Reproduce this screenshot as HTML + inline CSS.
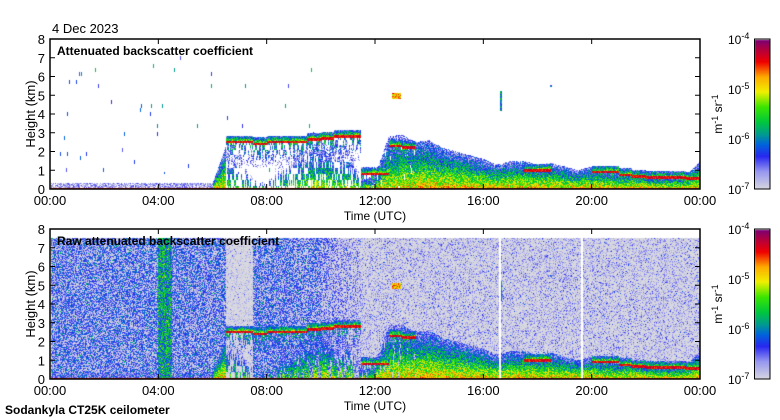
<!DOCTYPE html>
<html><head><meta charset="utf-8"><style>
html,body{margin:0;padding:0;background:#fff;}
#wrap{position:relative;width:780px;height:420px;overflow:hidden;font-family:"Liberation Sans",sans-serif;}
canvas,svg{position:absolute;left:0;top:0;}
</style></head><body>
<div id="wrap">
<canvas id="cv" width="780" height="420"></canvas>
<svg id="sv" width="780" height="420" font-family="Liberation Sans, sans-serif"></svg>
</div>
<script>
// ---- data (half-hour steps, 0..24 h) ----
const blTop = [0.3,0.3,0.3,0.3,0.3,0.3,0.3,0.3,0.3,0.3,0.3,0.3,0.3,2.3,2.0,0.6,0.4,1.5,2.0,2.5,2.6,2.0,2.5,0.5,0.7,2.8,2.9,2.5,2.6,2.2,2.0,1.8,1.6,1.3,1.5,1.5,1.3,1.4,1.2,1.0,1.2,1.0,0.9,1.0,0.8,0.7,0.7,0.7,1.5];
const blDensity = [1,1,1,1,1,1,1,1,1,1,1,1,1,0.45,0.4,0.4,0.4,0.5,0.6,0.7,0.75,0.6,0.6,0.8,0.9,0.9,0.95,1,1,1,1,1,1,1,1,1,1,1,1,1,1,1,1,1,1,1,1,1,1];
const layerH = [0,0,0,0,0,0,0,0,0,0,0,0,0,2.5,2.5,2.4,2.5,2.5,2.5,2.65,2.7,2.8,2.8,0.8,0.8,2.3,2.2,0,0,0,0,0,0,0,0,1.0,1.0,0,0,0,0.9,0.9,0.75,0.65,0.6,0.6,0.6,0.55,0];
const bgLevel = [-6.6,-6.6,-6.6,-6.6,-6.6,-6.6,-6.6,-6.6,-5.9,-6.6,-6.6,-6.6,-6.6,-7.3,-7.3,-6.6,-6.6,-6.6,-6.65,-6.65,-6.8,-6.9,-7.0,-7.1,-7.1,-7.1,-7.1,-7.1,-7.1,-7.1,-7.1,-7.1,-7.1,-7.1,-7.1,-7.1,-7.1,-7.1,-7.1,-7.1,-7.1,-7.1,-7.1,-7.1,-7.1,-7.1,-7.1,-7.1,-7.1];
const blobT = [12.8,16.65,18.5];
const blobH = [4.95,4.7,5.5];
const blobW = [0.35,0.1,0.06];
const blobD = [0.35,1.1,0.12];
const blobV = [-4.8,-6.0,-6.2];
const gapT = [16.6,19.65];
const xTicks = ["00:00","04:00","08:00","12:00","16:00","20:00","00:00"];
const yTicks = [0,1,2,3,4,5,6,7,8];
const cbTicks = ["-7","-6","-5","-4"];

const X0=50,X1=700,PW=X1-X0;
const panels=[{top:39,bot:189,raw:false,title:"Attenuated backscatter coefficient"},
              {top:229,bot:379,raw:true,title:"Raw attenuated backscatter coefficient"}];
const xs=t=>X0+t/24*PW;
const kmPx=150/8;

function interp(a,t){const i=Math.min(a.length-2,Math.floor(t*2));const f=t*2-i;return a[i]*(1-f)+a[i+1]*f;}
function step(a,t){return a[Math.min(a.length-1,Math.floor(t*2))];}
function hash(x,y,s){let h=(x*374761393+y*668265263+s*982451653)|0;h=(h^(h>>>13))*1274126177|0;h^=h>>>16;return ((h>>>0)%100000)/100000;}
const stops=[[0,216,216,224],[0.12,150,150,240],[0.22,40,40,240],[0.3,0,100,220],[0.36,0,150,150],[0.45,0,200,60],[0.55,60,230,0],[0.65,240,240,0],[0.75,255,170,0],[0.85,240,0,0],[0.93,180,0,60],[1,120,0,120]];
function cmap(v){let f=Math.max(0,Math.min(1,(v+7)/3));for(let i=0;i<stops.length-1;i++){const a=stops[i],b=stops[i+1];if(f<=b[0]){const k=(f-a[0])/(b[0]-a[0]);return [a[1]+(b[1]-a[1])*k,a[2]+(b[2]-a[2])*k,a[3]+(b[3]-a[3])*k];}}return [120,0,120];}

function signal(t,h,px,py){
  const n=hash(px,py,1)*2-1, n2=hash(px,py,2)*2-1;
  let sig=-99;
  const bl=interp(blTop,t);
  if(h<bl){
    if(bl<=0.35){sig=-6.75+0.35*n;}
    else {const f=h/bl;const dens=step(blDensity,t);
      const col=hash(px,Math.floor(py/6),7);
      if(dens>=0.99||col<dens){sig=-4.9-(2.0-dens*0.3)*f-(1-dens)*1.0+0.5*n;}
    }
  }
  const L=step(layerH,t);
  if(L>0){const d=h-L;
    if(d>-0.07&&d<0.07)sig=Math.max(sig,-4.4+0.2*n2);
    else if(d>=0.07&&d<0.35)sig=Math.max(sig,-5.1-d*4+0.5*n2);
    else if(d<0&&d>-1.3&&hash(px,Math.floor(py/5),8)>0.45)sig=Math.max(sig,-5.9+0.7*n+d);}
  for(let i=0;i<blobT.length;i++){if(Math.abs(t-blobT[i])<blobW[i]/2&&Math.abs(h-blobH[i])<blobD[i]/2)sig=Math.max(sig,blobV[i]+0.4*n);}
  if(h<0.07)sig=-4.5;
  return sig;
}

const cv=document.getElementById('cv'),ctx=cv.getContext('2d');
const img=ctx.createImageData(780,420);
function put(x,y,c){const o=(y*780+x)*4;img.data[o]=c[0];img.data[o+1]=c[1];img.data[o+2]=c[2];img.data[o+3]=255;}
for(const p of panels){
  for(let x=X0+1;x<X1;x++){
    const t=(x+0.5-X0)/PW*24;
    let gap=false;for(const g of gapT)if(Math.abs(t-g)<0.04)gap=true;
    for(let y=p.top+1;y<p.bot;y++){
      const h=(p.bot-y-0.5)/kmPx;
      let sig=signal(t,h,x,y);
      if(!p.raw){
        if(sig>-6.95)put(x,y,cmap(sig));
        else if(t<10&&h<7.1&&h>0.8&&hash(x,Math.floor(y/4),3)<0.006)put(x,y,cmap(-6.5+0.8*hash(x,Math.floor(y/4),4)));
      }else{
        if(h>7.5||gap)continue;
        const bg=step(bgLevel,t)+0.6*(hash(x,y,5)*2-1)+(hash(x,y,6)<0.1?0.35:0);
        put(x,y,cmap(Math.max(sig,bg)));
      }
    }
  }
  for(let y=p.top+1;y<p.bot;y++){const v=-7+(p.bot-y)/(p.bot-p.top)*3;const c=cmap(v);for(let x=755;x<770;x++)put(x,y,c);}
}
ctx.putImageData(img,0,0);

// ---- svg overlay ----
const sv=document.getElementById('sv');const NS="http://www.w3.org/2000/svg";
function el(tag,attrs,txt){const e=document.createElementNS(NS,tag);for(const k in attrs)e.setAttribute(k,attrs[k]);if(txt!==undefined)e.textContent=txt;sv.appendChild(e);return e;}
let e;
e=el('text',{x:52,y:33,'font-size':13},'4 Dec 2023');


e=el('text',{x:5,y:414,'font-size':12,'font-weight':'bold'},'Sodankyla CT25K ceilometer');


panels.forEach((p,pi)=>{
  e=el('rect',{x:X0,y:p.top,width:PW,height:p.bot-p.top,fill:'none',stroke:'#000','stroke-width':1.5});
  
  
  e=el('text',{x:57,y:p.top+16,'font-size':12,'font-weight':'bold'},p.title);
  
  
  xTicks.forEach((lab,i)=>{const x=xs(i*4);
    e=el('line',{x1:x,x2:x,y1:p.top,y2:p.top+5,stroke:'#000'});
    
    
    e=el('line',{x1:x,x2:x,y1:p.bot,y2:p.bot-5,stroke:'#000'});
    
    
    e=el('text',{x:x,y:p.bot+16,'font-size':13,'text-anchor':'middle'},lab);
    
    
  });
  yTicks.forEach(v=>{const y=p.bot-v*kmPx;
    e=el('line',{x1:X0,x2:X0+5,y1:y,y2:y,stroke:'#000'});
    
    
    e=el('line',{x1:X1,x2:X1-5,y1:y,y2:y,stroke:'#000'});
    
    
    e=el('text',{x:45,y:y+5,'font-size':13,'text-anchor':'end'},String(v));
    
    
  });
  e=el('text',{x:375,y:p.bot+31,'font-size':12,'text-anchor':'middle'},'Time (UTC)');
  
  
  const cy=(p.top+p.bot)/2;
  e=el('text',{x:35,y:cy,'font-size':13,'text-anchor':'middle',transform:'rotate(-90 35 '+cy+')'},'Height (km)');
  
  
  e=el('rect',{x:754.5,y:p.top,width:15.5,height:p.bot-p.top,fill:'none',stroke:'#000'});
  
  
  cbTicks.forEach((lab,i)=>{const y=p.bot-i*50;
    const t=el('text',{x:728,y:y+5,'font-size':12});
    
    
    const a=document.createElementNS(NS,'tspan');a.textContent='10';t.appendChild(a);
    const b=document.createElementNS(NS,'tspan');b.setAttribute('dy','-5');b.setAttribute('font-size','9');b.textContent=lab;t.appendChild(b);
  });
  const t=el('text',{x:722,y:cy,'font-size':12,'text-anchor':'middle',transform:'rotate(-90 722 '+cy+')'});
  
  
  [['m',0],['-1',-4],[' sr',4],['-1',-4]].forEach(([s,dy],k)=>{const ts=document.createElementNS(NS,'tspan');ts.textContent=s;ts.setAttribute('dy',dy);if(k%2)ts.setAttribute('font-size','9');t.appendChild(ts);});
});
</script>
</body></html>
